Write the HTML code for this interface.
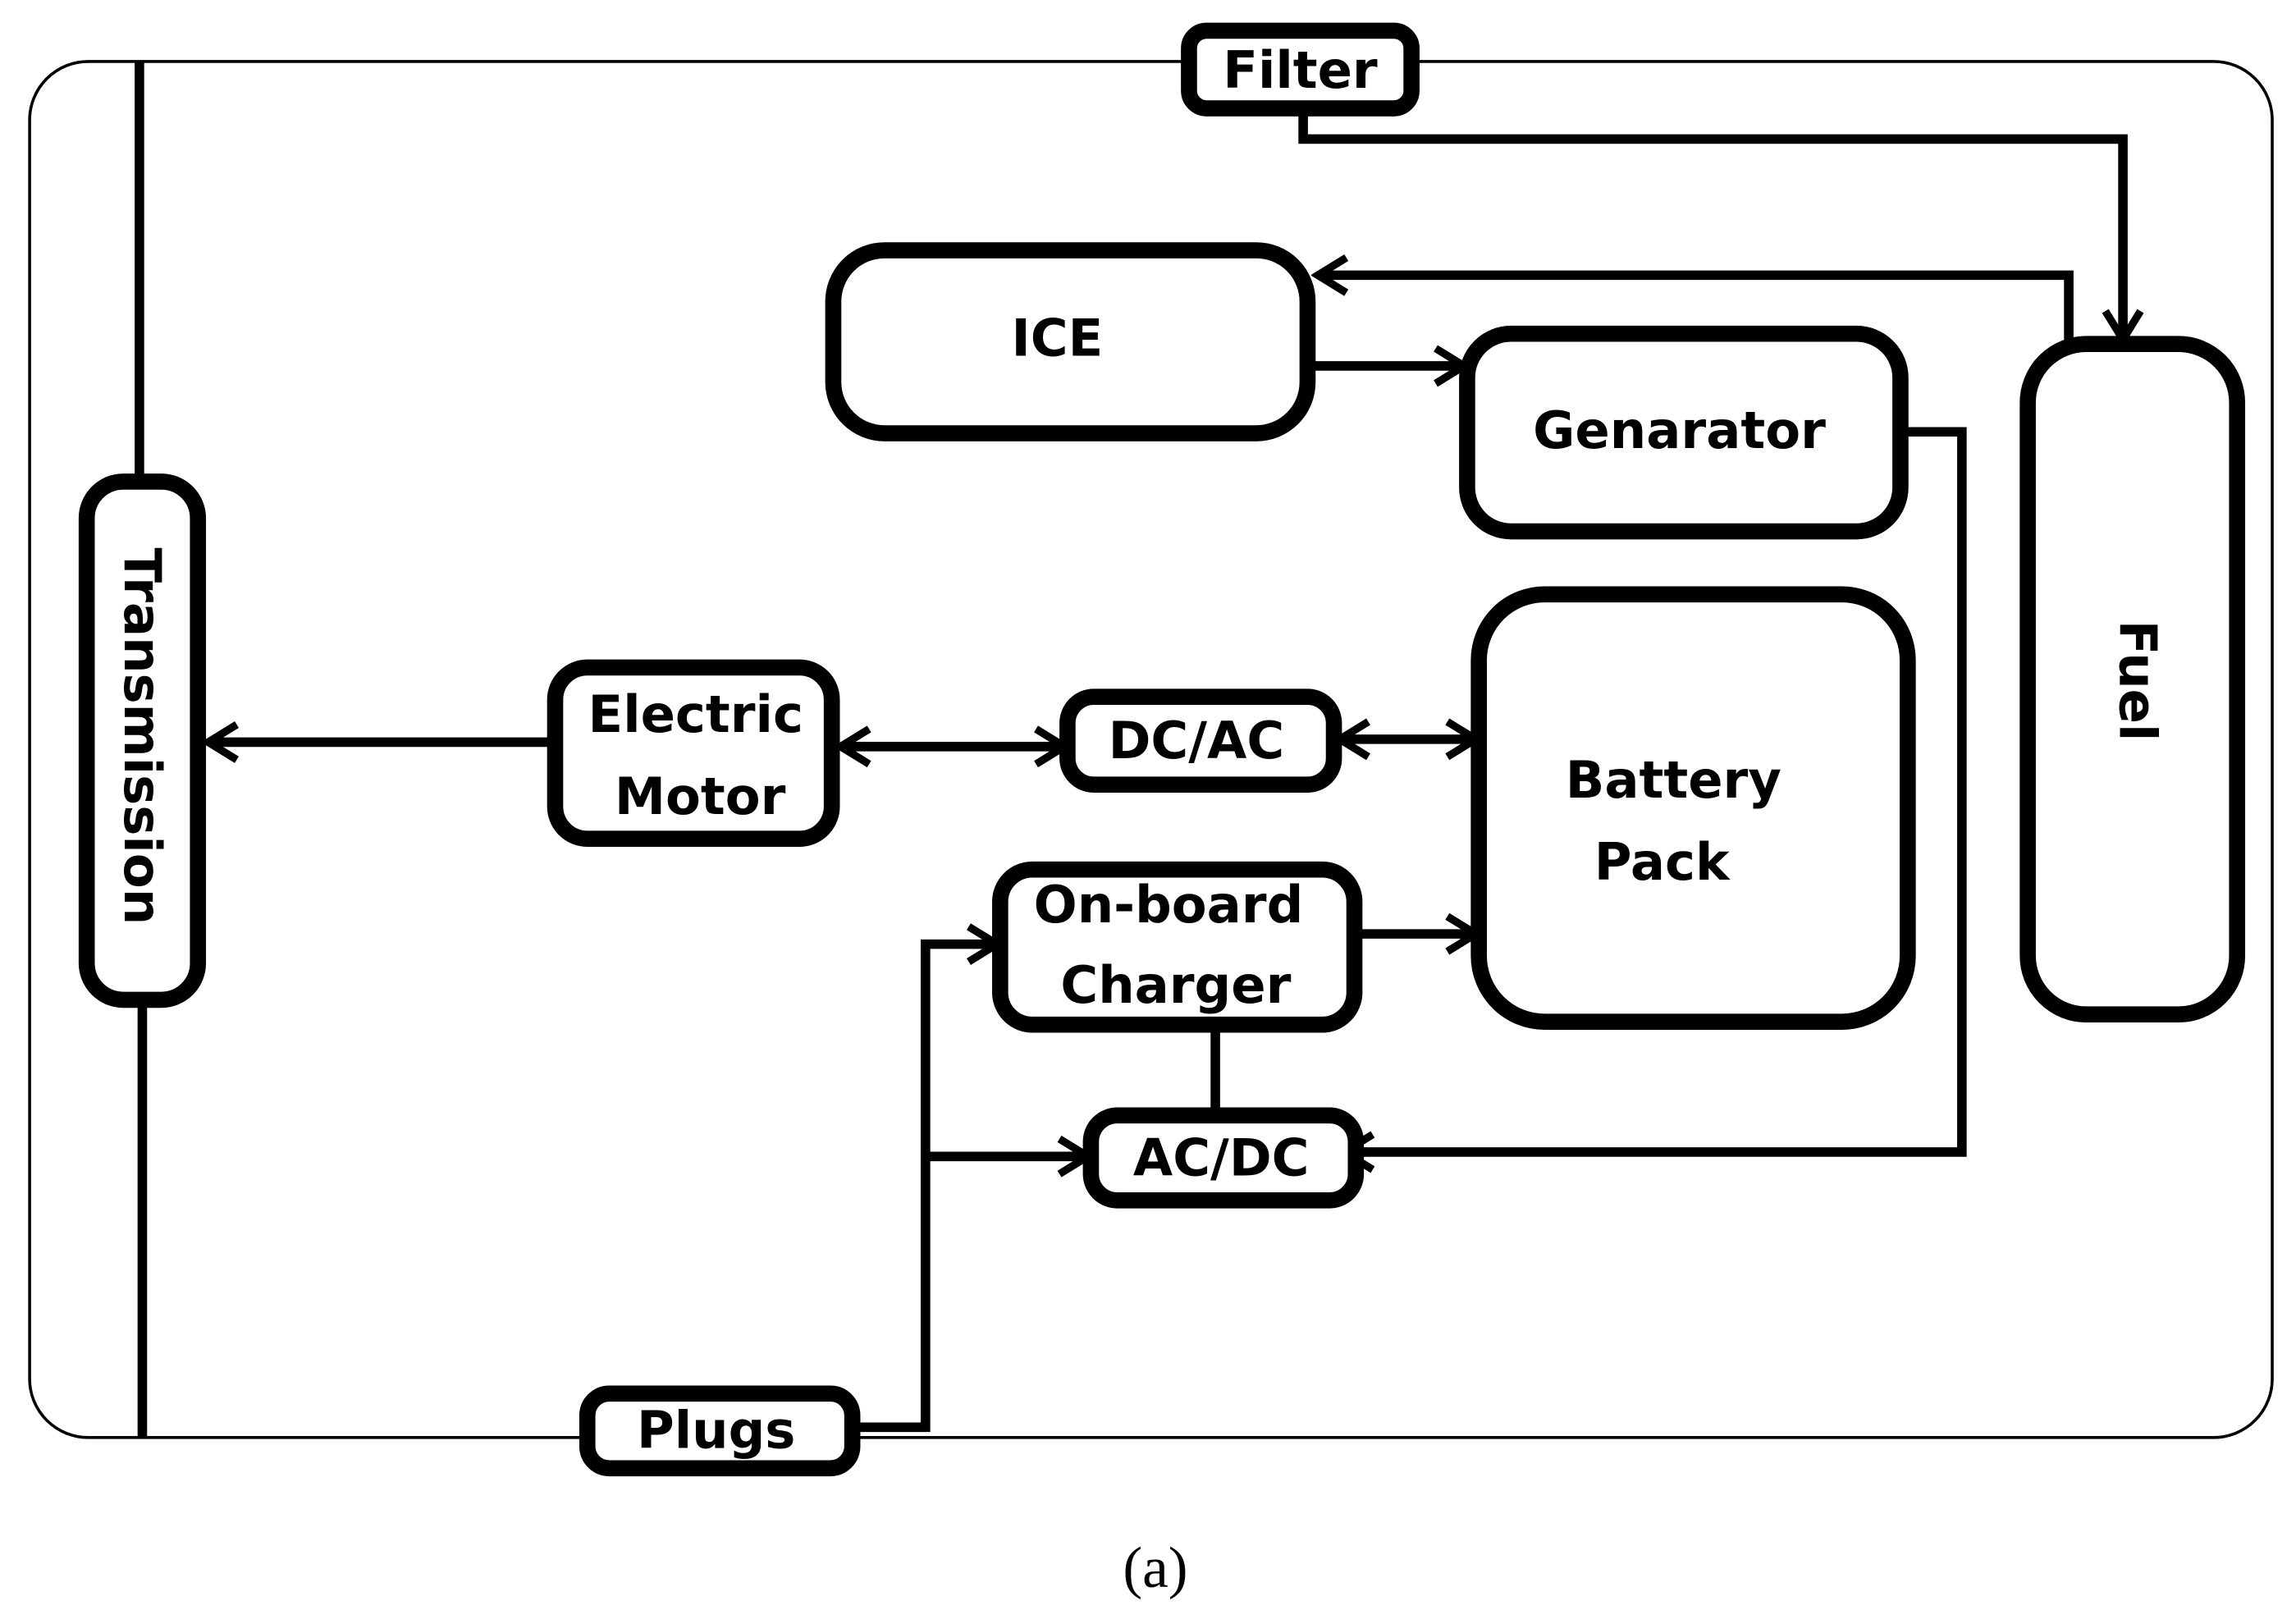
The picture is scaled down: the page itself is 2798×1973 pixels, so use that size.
<!DOCTYPE html>
<html><head><meta charset="utf-8"><style>
html,body{margin:0;padding:0;background:#fff}
svg{display:block}
text{font-family:"DejaVu Sans","Liberation Sans",sans-serif;font-weight:bold;fill:#000}
</style></head><body>
<svg width="2798" height="1973" viewBox="0 0 1568 1106" xmlns="http://www.w3.org/2000/svg">
<defs>
<marker id="a" viewBox="0 0 20 20" refX="17" refY="10" markerWidth="30" markerHeight="30" markerUnits="userSpaceOnUse" orient="auto-start-reverse">
<path d="M4 2 L17 10 L4 18" fill="none" stroke="#000" stroke-width="3.5"/>
</marker>
</defs>
<rect x="20" y="42" width="1532" height="940" rx="40" fill="none" stroke="#000" stroke-width="2"/>
<g fill="none" stroke="#000" stroke-width="6.5">
<line x1="95" y1="42" x2="95" y2="327"/>
<line x1="97" y1="685" x2="97" y2="982"/>
<polyline points="890,76 890,95 1450,95 1450,232" marker-end="url(#a)"/>
<polyline points="1413,232 1413,188 900,188" marker-end="url(#a)"/>
<line x1="895" y1="250" x2="1000" y2="250" marker-end="url(#a)"/>
<polyline points="1300,295 1340,295 1340,787 918,787" marker-end="url(#a)"/>
<line x1="377" y1="507" x2="142" y2="507" marker-end="url(#a)"/>
<line x1="574" y1="510" x2="727" y2="510" marker-start="url(#a)" marker-end="url(#a)"/>
<line x1="915" y1="505" x2="1008" y2="505" marker-start="url(#a)" marker-end="url(#a)"/>
<line x1="927" y1="638" x2="1008" y2="638" marker-end="url(#a)"/>
<line x1="830" y1="702" x2="830" y2="760"/>
<polyline points="584,975 632,975 632,645 681,645" marker-end="url(#a)"/>
<line x1="632" y1="790" x2="743" y2="790" marker-end="url(#a)"/>
</g>
<g fill="#fff" stroke="#000" stroke-width="11">
<rect x="812" y="21" width="152" height="53" rx="12"/>
<rect x="569" y="171" width="324" height="125" rx="35"/>
<rect x="1002" y="228" width="296" height="135" rx="30"/>
<rect x="1385" y="235" width="143" height="458" rx="40"/>
<rect x="1010" y="406" width="293" height="292" rx="45"/>
<rect x="59" y="329" width="76" height="354" rx="25"/>
<rect x="379" y="456" width="189" height="117" rx="22"/>
<rect x="729" y="476" width="182" height="60" rx="18"/>
<rect x="683" y="594" width="242" height="106" rx="22"/>
<rect x="745" y="762" width="181" height="58" rx="18"/>
<rect x="401" y="952" width="181" height="51" rx="15"/>
</g>
<g font-size="35" text-anchor="middle">
<text x="888" y="60">Filter</text>
<text x="722" y="243">ICE</text>
<text x="1147" y="306" textLength="200">Genarator</text>
<text x="1143" y="545">Battery</text>
<text x="1135" y="601">Pack</text>
<text x="475" y="500">Electric</text>
<text x="478" y="556">Motor</text>
<text x="817" y="518">DC/AC</text>
<text x="798" y="630">On-board</text>
<text x="803" y="685">Charger</text>
<text x="834" y="803">AC/DC</text>
<text x="489" y="989">Plugs</text>
<text transform="translate(1448,465) rotate(90)">Fuel</text>
<text transform="translate(85,503) rotate(90)">Transmission</text>
</g>
<text x="789" y="1084" font-size="40" text-anchor="middle" style="font-family:'Liberation Serif',serif;font-weight:normal">(a)</text>
</svg>
</body></html>
